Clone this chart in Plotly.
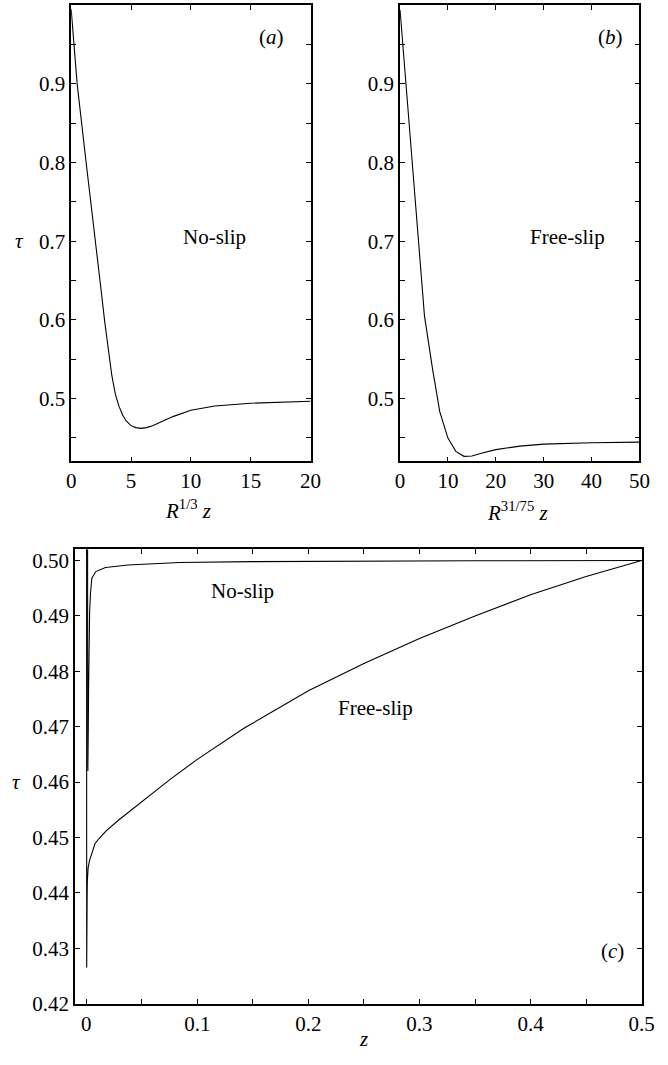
import plotly.graph_objects as go

# (a) no-slip profile against the scaled coordinate R^{1/3} z
a_x = [0, 0.5, 1.25, 2.05, 2.5, 2.8, 3.1, 3.4, 3.7, 4.0, 4.3, 4.6, 5.0, 5.4, 5.85,
       6.3, 6.8, 7.5, 8.5, 10, 12, 15, 17.5, 20]
a_tau = [0.995, 0.9, 0.8, 0.7, 0.638, 0.598, 0.56, 0.529, 0.505, 0.49, 0.479, 0.4715,
         0.4655, 0.463, 0.462, 0.463, 0.4655, 0.470, 0.477, 0.485, 0.4905, 0.494,
         0.4956, 0.4966]

# (b) free-slip profile against R^{31/75} z
b_x = [0, 1.7, 3.4, 5.1, 6.8, 8.3, 10.0, 11.65, 13.35, 15.0, 17, 20, 25, 30, 40, 50]
b_tau = [0.994, 0.865, 0.735, 0.605, 0.537, 0.483, 0.4497, 0.4328, 0.4265, 0.427,
         0.4305, 0.435, 0.4395, 0.442, 0.4437, 0.4445]

# (c) both profiles against z
ns_z = [0, 0.00013, 0.00032, 0.00053, 0.00064, 0.00072, 0.0008, 0.00087, 0.00095, 0.00103,
        0.0011, 0.00118, 0.00128, 0.00138, 0.0015, 0.00162, 0.00174, 0.00192, 0.00218,
        0.00256, 0.00308, 0.00385, 0.0045, 0.0051, 0.0087, 0.0174, 0.0377, 0.084, 0.15,
        0.25, 0.35, 0.5]
ns_tau = [0.995, 0.9, 0.8, 0.7, 0.638, 0.598, 0.56, 0.529, 0.505, 0.49, 0.479, 0.4715,
          0.4655, 0.463, 0.462, 0.463, 0.4655, 0.470, 0.477, 0.485, 0.4905, 0.494,
          0.4956, 0.4968, 0.498, 0.49875, 0.4992, 0.49964, 0.4998, 0.4999, 0.49995, 0.5]

fs_z = [0, 0.00006, 0.00012, 0.00018, 0.00024, 0.00029, 0.00035, 0.00041, 0.00047, 0.00053,
        0.0006, 0.0007, 0.00088, 0.00105, 0.0014, 0.00175, 0.003, 0.005, 0.008, 0.0116,
        0.018, 0.029, 0.05, 0.075, 0.1, 0.142, 0.2, 0.25, 0.3, 0.35, 0.4, 0.45, 0.5]
fs_tau = [0.994, 0.865, 0.735, 0.605, 0.537, 0.483, 0.4497, 0.4328, 0.4265, 0.427, 0.4305,
          0.435, 0.4395, 0.442, 0.4437, 0.4445, 0.4458, 0.4472, 0.4489, 0.4498, 0.4512,
          0.4531, 0.4565, 0.4604, 0.4641, 0.4697, 0.4765, 0.4814, 0.4859, 0.49, 0.4938,
          0.4971, 0.5]

ab_ticks = [0.5, 0.6, 0.7, 0.8, 0.9]
ab_minor = [0.45, 0.55, 0.65, 0.75, 0.85, 0.95]
a_xticks = [0, 5, 10, 15, 20]
b_xticks = [0, 10, 20, 30, 40, 50]
c_xticks = [0, 0.1, 0.2, 0.3, 0.4, 0.5]
c_xtext = ["0", "0.1", "0.2", "0.3", "0.4", "0.5"]
c_xminor = [0.05, 0.15, 0.25, 0.35, 0.45]
c_yticks = [0.42, 0.43, 0.44, 0.45, 0.46, 0.47, 0.48, 0.49, 0.50]

FONT = "Liberation Serif, 'Times New Roman', Times, 'DejaVu Serif', serif"
FS = 21
W, H = 668, 1065

line = dict(color="black", width=1.1)
fig = go.Figure()
fig.add_trace(go.Scatter(x=a_x, y=a_tau, mode="lines", line=line, xaxis="x", yaxis="y"))
fig.add_trace(go.Scatter(x=b_x, y=b_tau, mode="lines", line=line, xaxis="x2", yaxis="y2"))
fig.add_trace(go.Scatter(x=ns_z, y=ns_tau, mode="lines", line=line, xaxis="x3", yaxis="y3"))
fig.add_trace(go.Scatter(x=fs_z, y=fs_tau, mode="lines", line=line, xaxis="x3", yaxis="y3"))


def px_x(p):
    return p / W


def px_y(p):
    return (H - p) / H


common = dict(showline=True, linecolor="black", linewidth=1.6, mirror="ticks",
              ticks="inside", ticklen=5, tickwidth=1, tickcolor="black",
              showgrid=False, zeroline=False,
              tickfont=dict(family=FONT, size=FS, color="black"))

top_dom = [px_y(466.7), px_y(5.3)]
fig.update_layout(
    width=W, height=H, margin=dict(l=0, r=0, t=0, b=0),
    paper_bgcolor="white", plot_bgcolor="white", showlegend=False,
    font=dict(family=FONT, size=FS, color="black"),
    xaxis=dict(domain=[px_x(68), px_x(314)], range=[0, 20], anchor="y",
               tickvals=a_xticks, **common),
    yaxis=dict(domain=top_dom, range=[0.42, 1.0], anchor="x",
               tickvals=ab_ticks, ticktext=[f"{v:.1f}" for v in ab_ticks],
               minor=dict(tickvals=ab_minor, ticks="inside", ticklen=5, tickcolor="black"),
               **common),
    xaxis2=dict(domain=[px_x(406), px_x(652)], range=[0, 50], anchor="y2",
                tickvals=b_xticks, **common),
    yaxis2=dict(domain=top_dom, range=[0.42, 1.0], anchor="x2",
                tickvals=ab_ticks, ticktext=[f"{v:.1f}" for v in ab_ticks],
                minor=dict(tickvals=ab_minor, ticks="inside", ticklen=5, tickcolor="black"),
                **common),
    xaxis3=dict(domain=[px_x(72), px_x(654.3)], range=[-0.01, 0.5], anchor="y3",
                tickvals=c_xticks, ticktext=c_xtext,
                minor=dict(tickvals=c_xminor, ticks="inside", ticklen=5, tickcolor="black"),
                **common),
    yaxis3=dict(domain=[px_y(1015), px_y(555.7)], range=[0.42, 0.502], anchor="x3",
                tickvals=c_yticks, ticktext=[f"{v:.2f}" for v in c_yticks], **common),
)

txt = dict(family=FONT, size=FS, color="black")
ann = [
    # in-panel labels
    dict(x=12.0, y=0.705, xref="x", yref="y", text="No-slip"),
    dict(x=16.7, y=0.959, xref="x", yref="y", text="(<i>a</i>)"),
    dict(x=35.0, y=0.705, xref="x2", yref="y2", text="Free-slip"),
    dict(x=44.0, y=0.959, xref="x2", yref="y2", text="(<i>b</i>)"),
    dict(x=0.1406, y=0.4945, xref="x3", yref="y3", text="No-slip"),
    dict(x=0.26, y=0.4733, xref="x3", yref="y3", text="Free-slip"),
    dict(x=0.474, y=0.4295, xref="x3", yref="y3", text="(<i>c</i>)"),
    # axis titles
    dict(x=px_x(15), y=px_y(244), xref="paper", yref="paper", text="<i>τ</i>"),
    dict(x=px_x(11.7), y=px_y(791), xref="paper", yref="paper", text="<i>τ</i>"),
    dict(x=px_x(188), y=px_y(515), xref="paper", yref="paper",
         text="<i>R</i><sup>1/3</sup> <i>z</i>"),
    dict(x=px_x(527), y=px_y(517), xref="paper", yref="paper",
         text="<i>R</i><sup>31/75</sup> <i>z</i>"),
    dict(x=px_x(368), y=px_y(1051), xref="paper", yref="paper", text="<i>z</i>"),
]
for a in ann:
    a.update(showarrow=False, font=txt, xanchor="center", yanchor="middle")
fig.update_layout(annotations=ann)

fig.write_html("out.html")
